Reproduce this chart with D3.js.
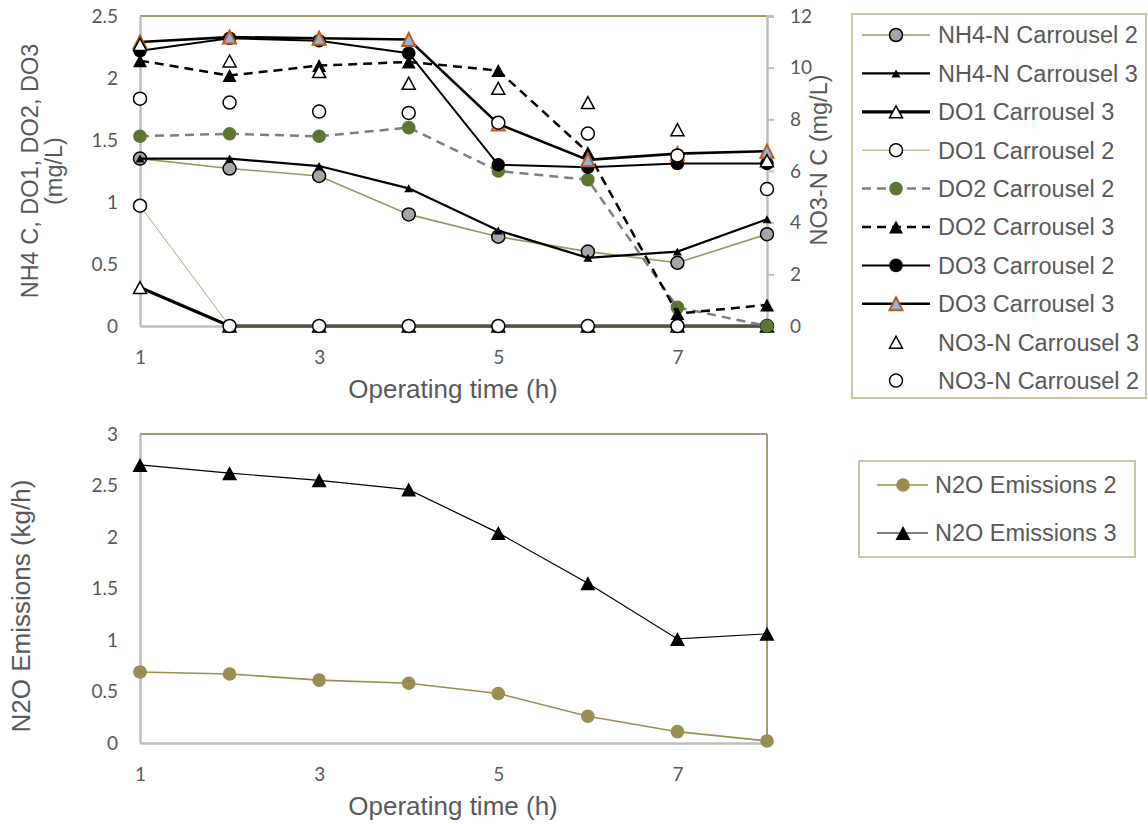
<!DOCTYPE html>
<html>
<head>
<meta charset="utf-8">
<script src="https://cdn.jsdelivr.net/npm/d3@7"></script>
<style>
  body { margin: 0; background: #fff; }
  text { fill: #595959; }
</style>
</head>
<body>
<div id="chart"></div>
<script>
// ---- data ----
const hours = [1, 2, 3, 4, 5, 6, 7, 8];
const xTicks = [1, 3, 5, 7];

const nh4C2 = [1.35, 1.27, 1.21, 0.90, 0.72, 0.60, 0.51, 0.74];
const nh4C3 = [1.35, 1.35, 1.29, 1.11, 0.77, 0.55, 0.60, 0.86];
const do1C3 = [0.31, 0, 0, 0, 0, 0, 0, 0];
const do1C2 = [0.97, 0, 0, 0, 0, 0, 0, 0];
const do2C2 = [1.53, 1.55, 1.53, 1.60, 1.25, 1.18, 0.15, 0.00];
const do2C3 = [2.14, 2.02, 2.10, 2.13, 2.06, 1.40, 0.10, 0.17];
const do3C2 = [2.22, 2.32, 2.30, 2.20, 1.30, 1.28, 1.31, 1.31];
const do3C3 = [2.29, 2.33, 2.32, 2.31, 1.63, 1.34, 1.39, 1.41];
const no3C3 = [10.9, 10.26, 9.85, 9.40, 9.20, 8.65, 7.60, 6.40];
const no3C2 = [8.80, 8.65, 8.30, 8.25, 7.87, 7.45, 6.60, 5.30];

const n2oC2 = [0.69, 0.67, 0.61, 0.58, 0.48, 0.26, 0.11, 0.02];
const n2oC3 = [2.70, 2.62, 2.55, 2.46, 2.04, 1.55, 1.01, 1.06];

const leftTicks = [0, 0.5, 1, 1.5, 2, 2.5];
const rightTicks = [0, 2, 4, 6, 8, 10, 12];
const n2oTicks = [0, 0.5, 1, 1.5, 2, 2.5, 3];

// ---- setup ----
const W = 1148, H = 824;
const svg = d3.select("#chart").append("svg").attr("width", W).attr("height", H);

const gray = "#bfbfbf", olive = "#a39b6b", legBorder = "#cdc6a6";
const tickFont = "Lato, sans-serif", labFont = "'Liberation Sans', Arial, sans-serif";

function tri(w, h) {
  return `M0,${-h / 2}L${w / 2},${h / 2}L${-w / 2},${h / 2}Z`;
}

function drawMarker(g, m, cx, cy) {
  if (!m) return;
  if (m.type === "circle") {
    g.append("circle").attr("cx", cx).attr("cy", cy).attr("r", m.r)
      .attr("fill", m.fill).attr("stroke", m.stroke || "none").attr("stroke-width", m.sw || 0);
  } else {
    g.append("path").attr("d", tri(m.w, m.h)).attr("transform", `translate(${cx},${cy})`)
      .attr("fill", m.fill).attr("stroke", m.stroke || "none").attr("stroke-width", m.sw || 0)
      .attr("stroke-linejoin", "miter");
  }
}

// ================= TOP CHART =================
const x = d3.scaleLinear().domain([1, 8]).range([140, 767]);
const yL = d3.scaleLinear().domain([0, 2.5]).range([326, 16]);
const yR = d3.scaleLinear().domain([0, 12]).range([326, 16]);

const topG = svg.append("g");

// frame
topG.append("line").attr("x1", x(1)).attr("x2", x(8)).attr("y1", yL(2.5)).attr("y2", yL(2.5))
  .attr("stroke", olive).attr("stroke-width", 2);

const axL = topG.append("g").attr("transform", `translate(${x(1)},0)`)
  .call(d3.axisLeft(yL).tickValues(leftTicks).tickSize(0).tickPadding(22).tickFormat(d3.format("")));
const axB = topG.append("g").attr("transform", `translate(0,${yL(0)})`)
  .call(d3.axisBottom(x).tickValues(xTicks).tickSize(0).tickPadding(25).tickFormat(d3.format("")));
const axR = topG.append("g").attr("transform", `translate(${x(8)},0)`)
  .call(d3.axisRight(yR).tickValues(rightTicks).tickSize(7).tickPadding(16).tickFormat(d3.format("")));

[axL, axB, axR].forEach(a => {
  a.select(".domain").attr("stroke", gray).attr("stroke-width", 2.5);
  a.selectAll(".tick line").attr("stroke", gray).attr("stroke-width", 2);
  a.selectAll("text").attr("font-family", tickFont).attr("font-size", 19).attr("fill", "#595959");
});

const series = [
  { name: "NH4-N Carrousel 2", v: nh4C2, y: yL, stroke: "#9d9461", sw: 1.6,
    m: { type: "circle", r: 6.5, fill: "#a6a6a6", stroke: "#000", sw: 1.5 } },
  { name: "NH4-N Carrousel 3", v: nh4C3, y: yL, stroke: "#000", sw: 2.2,
    m: { type: "tri", w: 9, h: 8, fill: "#000" } },
  { name: "DO1 Carrousel 3", v: do1C3, y: yL, stroke: "#000", sw: 3.2,
    m: { type: "tri", w: 13, h: 12, fill: "#fff", stroke: "#000", sw: 1.5 } },
  { name: "DO1 Carrousel 2", v: do1C2, y: yL, stroke: "#aea679", sw: 1,
    m: { type: "circle", r: 6.5, fill: "#fff", stroke: "#000", sw: 1.5 } },
  { name: "DO2 Carrousel 2", v: do2C2, y: yL, stroke: "#808080", sw: 2.5, dash: "9,6",
    m: { type: "circle", r: 6.8, fill: "#5e7632" } },
  { name: "DO2 Carrousel 3", v: do2C3, y: yL, stroke: "#000", sw: 2.5, dash: "9,6",
    m: { type: "tri", w: 14, h: 13, fill: "#000" } },
  { name: "DO3 Carrousel 2", v: do3C2, y: yL, stroke: "#000", sw: 2,
    m: { type: "circle", r: 6.8, fill: "#000" } },
  { name: "DO3 Carrousel 3", v: do3C3, y: yL, stroke: "#000", sw: 2.6,
    m: { type: "tri", w: 13, h: 13, fill: "#8eb4e3", stroke: "#c55a11", sw: 2 } },
  { name: "NO3-N Carrousel 3", v: no3C3, y: yR, stroke: null,
    m: { type: "tri", w: 13, h: 12, fill: "#fff", stroke: "#000", sw: 1.5 } },
  { name: "NO3-N Carrousel 2", v: no3C2, y: yR, stroke: null,
    m: { type: "circle", r: 6.5, fill: "#fff", stroke: "#000", sw: 1.5 } }
];

const plot = topG.append("g");
series.forEach(s => {
  const g = plot.append("g");
  if (s.stroke) {
    const line = d3.line().x((d, i) => x(hours[i])).y(d => s.y(d));
    g.append("path").datum(s.v).attr("d", line).attr("fill", "none")
      .attr("stroke", s.stroke).attr("stroke-width", s.sw)
      .attr("stroke-dasharray", s.dash || null);
  }
  s.v.forEach((d, i) => drawMarker(g, s.m, x(hours[i]), s.y(d)));
});

// titles
topG.append("text").attr("transform", "translate(38,171) rotate(-90)").attr("text-anchor", "middle")
  .attr("font-family", labFont).attr("font-size", 23.5).text("NH4 C, DO1, DO2, DO3");
topG.append("text").attr("transform", "translate(62,171) rotate(-90)").attr("text-anchor", "middle")
  .attr("font-family", labFont).attr("font-size", 23.5).text("(mg/L)");
topG.append("text").attr("transform", "translate(827,160) rotate(-90)").attr("text-anchor", "middle")
  .attr("font-family", labFont).attr("font-size", 23.5).text("NO3-N C (mg/L)");
topG.append("text").attr("x", 453).attr("y", 398).attr("text-anchor", "middle")
  .attr("font-family", labFont).attr("font-size", 26).text("Operating time (h)");

// legend
const leg = svg.append("g");
leg.append("rect").attr("x", 852).attr("y", 14).attr("width", 294).attr("height", 384)
  .attr("fill", "#fff").attr("stroke", legBorder).attr("stroke-width", 2);
series.forEach((s, i) => {
  const cy = 35 + i * 38.4;
  const g = leg.append("g");
  if (s.stroke) {
    g.append("line").attr("x1", 862).attr("x2", 930).attr("y1", cy).attr("y2", cy)
      .attr("stroke", s.stroke).attr("stroke-width", s.sw).attr("stroke-dasharray", s.dash || null);
  }
  drawMarker(g, s.m, 896, cy);
  g.append("text").attr("x", 938).attr("y", cy).attr("dy", "0.36em")
    .attr("font-family", labFont).attr("font-size", 23.5).text(s.name);
});

// ================= BOTTOM CHART =================
const x2 = d3.scaleLinear().domain([1, 8]).range([140, 767]);
const y2 = d3.scaleLinear().domain([0, 3]).range([743, 434]);
const bot = svg.append("g");

bot.append("line").attr("x1", x2(1)).attr("x2", x2(8)).attr("y1", y2(3)).attr("y2", y2(3))
  .attr("stroke", olive).attr("stroke-width", 2);
bot.append("line").attr("x1", x2(8)).attr("x2", x2(8)).attr("y1", y2(3)).attr("y2", y2(0))
  .attr("stroke", olive).attr("stroke-width", 2);

const bL = bot.append("g").attr("transform", `translate(${x2(1)},0)`)
  .call(d3.axisLeft(y2).tickValues(n2oTicks).tickSize(0).tickPadding(22).tickFormat(d3.format("")));
const bB = bot.append("g").attr("transform", `translate(0,${y2(0)})`)
  .call(d3.axisBottom(x2).tickValues(xTicks).tickSize(0).tickPadding(25).tickFormat(d3.format("")));
[bL, bB].forEach(a => {
  a.select(".domain").attr("stroke", gray).attr("stroke-width", 2.5);
  a.selectAll("text").attr("font-family", tickFont).attr("font-size", 19).attr("fill", "#595959");
});

const n2oSeries = [
  { name: "N2O Emissions 2", v: n2oC2, stroke: "#9b8e54", sw: 1.6,
    m: { type: "circle", r: 6.8, fill: "#9b8e54" } },
  { name: "N2O Emissions 3", v: n2oC3, stroke: "#000", sw: 1.2,
    m: { type: "tri", w: 15, h: 14, fill: "#000" } }
];
n2oSeries.forEach(s => {
  const g = bot.append("g");
  const line = d3.line().x((d, i) => x2(hours[i])).y(d => y2(d));
  g.append("path").datum(s.v).attr("d", line).attr("fill", "none")
    .attr("stroke", s.stroke).attr("stroke-width", s.sw);
  s.v.forEach((d, i) => drawMarker(g, s.m, x2(hours[i]), y2(d)));
});

bot.append("text").attr("transform", "translate(30,606) rotate(-90)").attr("text-anchor", "middle")
  .attr("font-family", labFont).attr("font-size", 26).text("N2O Emissions (kg/h)");
bot.append("text").attr("x", 453).attr("y", 815).attr("text-anchor", "middle")
  .attr("font-family", labFont).attr("font-size", 26).text("Operating time (h)");

const leg2 = svg.append("g");
leg2.append("rect").attr("x", 859).attr("y", 461).attr("width", 276).attr("height", 96)
  .attr("fill", "#fff").attr("stroke", legBorder).attr("stroke-width", 2);
n2oSeries.forEach((s, i) => {
  const cy = 485 + i * 48;
  const g = leg2.append("g");
  g.append("line").attr("x1", 877).attr("x2", 928).attr("y1", cy).attr("y2", cy)
    .attr("stroke", s.stroke).attr("stroke-width", s.sw);
  drawMarker(g, s.m, 903, cy);
  g.append("text").attr("x", 935).attr("y", cy).attr("dy", "0.36em")
    .attr("font-family", labFont).attr("font-size", 23.5).text(s.name);
});
</script>
</body>
</html>
